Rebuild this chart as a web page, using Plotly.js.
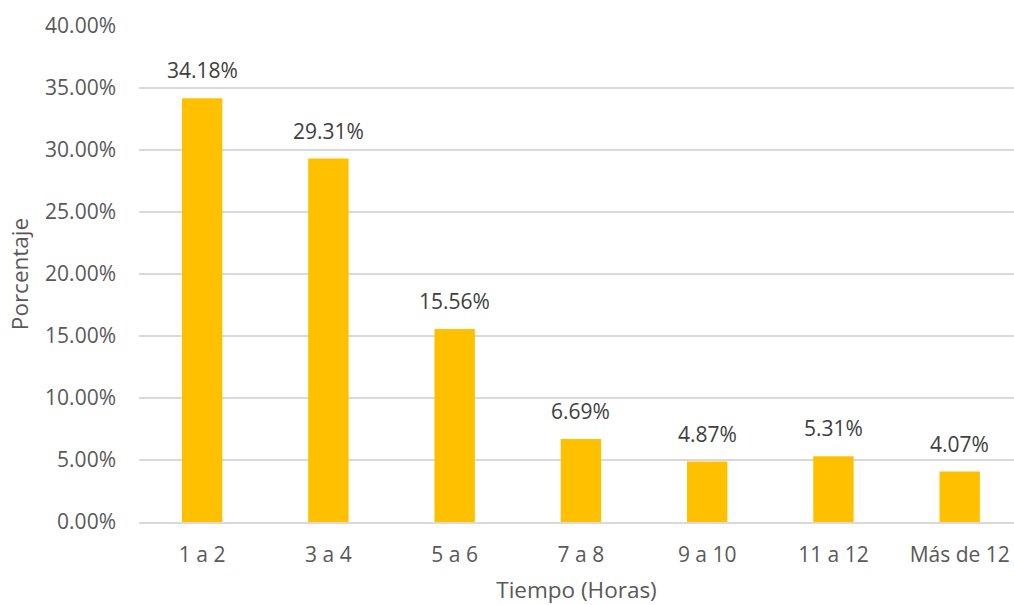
<!DOCTYPE html>
<html>
<head>
<meta charset="utf-8">
<script src="https://cdn.plot.ly/plotly-3.0.1.min.js"></script>
<style>html,body{margin:0;padding:0;background:#fff}#chart{width:1014px;height:605px}</style>
</head>
<body>
<div id="chart"></div>
<script>
const categories = ["1 a 2", "3 a 4", "5 a 6", "7 a 8", "9 a 10", "11 a 12", "Más de 12"];
const percentages = [34.18, 29.31, 15.56, 6.69, 4.87, 5.31, 4.07];
const yTickValues = [0, 5, 10, 15, 20, 25, 30, 35, 40];
const yTickLabels = ["0.00%", "5.00%", "10.00%", "15.00%", "20.00%", "25.00%", "30.00%", "35.00%", "40.00%"];

const FONT = "'Open Sans', sans-serif";

const trace = {
  type: "bar",
  x: categories,
  y: percentages,
  marker: {color: "#FFC000"},
  width: 0.32,
  hoverinfo: "none"
};

const annotations = categories.map((c, i) => ({
  x: c, y: percentages[i], xref: "x", yref: "y",
  text: percentages[i].toFixed(2) + "%",
  showarrow: false, yanchor: "bottom", yshift: 13, borderpad: 0,
  font: {family: FONT, size: 21, color: "#404040"}
}));

const layout = {
  width: 1014, height: 605,
  margin: {l: 139, r: 0, t: 26, b: 83, pad: 0},
  paper_bgcolor: "#fff", plot_bgcolor: "#fff",
  showlegend: false,
  xaxis: {
    type: "category",
    range: [-0.5, 6.43],
    showgrid: false, zeroline: false,
    showline: true, linecolor: "#d9d9d9", linewidth: 1.5,
    ticks: "", ticklabelstandoff: 13,
    tickfont: {family: FONT, size: 21, color: "#595959"},
    title: {text: "Tiempo (Horas)", font: {family: FONT, size: 22.5, color: "#595959"}, standoff: 15}
  },
  yaxis: {
    range: [0, 40],
    tickvals: yTickValues, ticktext: yTickLabels,
    showgrid: true, gridcolor: "#d9d9d9", gridwidth: 1.5,
    zeroline: false, showline: false,
    ticks: "", ticklabelstandoff: 22,
    tickfont: {family: FONT, size: 21, color: "#595959"},
    title: {text: "Porcentaje", font: {family: FONT, size: 22.5, color: "#595959"}, standoff: 10}
  },
  annotations: annotations
};

Plotly.newPlot("chart", [trace], layout, {displayModeBar: false, staticPlot: true});
</script>
</body>
</html>
